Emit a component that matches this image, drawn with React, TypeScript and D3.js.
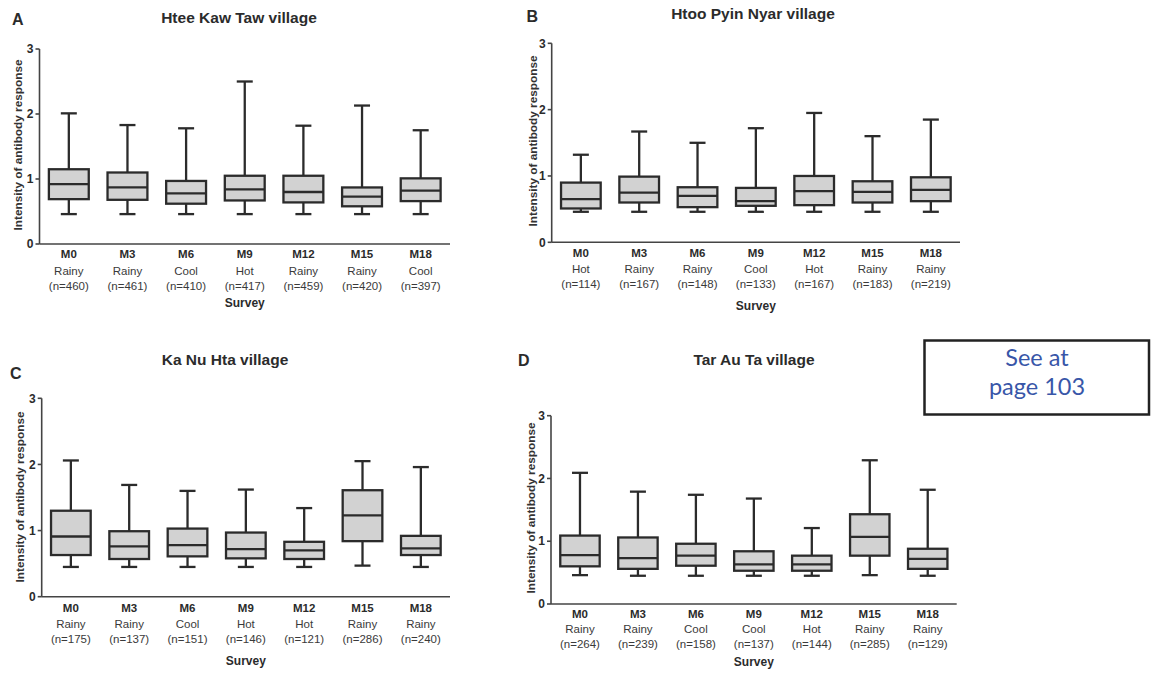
import React from "react";
import * as d3 from "d3";

const surveys = ["M0", "M3", "M6", "M9", "M12", "M15", "M18"];
const yTicks = [0, 1, 2, 3];

// Panel A – Htee Kaw Taw
const seasonsA = ["Rainy", "Rainy", "Cool", "Hot", "Rainy", "Rainy", "Cool"];
const nA = [460, 461, 410, 417, 459, 420, 397];
const lowA = [0.46, 0.46, 0.46, 0.46, 0.46, 0.46, 0.46];
const q1A = [0.69, 0.68, 0.62, 0.67, 0.64, 0.58, 0.66];
const medA = [0.92, 0.87, 0.78, 0.84, 0.8, 0.73, 0.82];
const q3A = [1.15, 1.1, 0.97, 1.05, 1.05, 0.87, 1.01];
const highA = [2.01, 1.83, 1.78, 2.5, 1.82, 2.13, 1.75];

// Panel B – Htoo Pyin Nyar
const seasonsB = ["Hot", "Rainy", "Rainy", "Cool", "Hot", "Rainy", "Rainy"];
const nB = [114, 167, 148, 133, 167, 183, 219];
const lowB = [0.46, 0.46, 0.46, 0.46, 0.46, 0.46, 0.46];
const q1B = [0.51, 0.6, 0.53, 0.55, 0.56, 0.6, 0.62];
const medB = [0.65, 0.75, 0.7, 0.62, 0.77, 0.76, 0.79];
const q3B = [0.9, 0.99, 0.83, 0.82, 1.0, 0.92, 0.98];
const highB = [1.32, 1.67, 1.5, 1.72, 1.95, 1.6, 1.85];

// Panel C – Ka Nu Hta
const seasonsC = ["Rainy", "Rainy", "Cool", "Hot", "Hot", "Rainy", "Rainy"];
const nC = [175, 137, 151, 146, 121, 286, 240];
const lowC = [0.45, 0.45, 0.45, 0.45, 0.45, 0.47, 0.45];
const q1C = [0.63, 0.57, 0.61, 0.58, 0.57, 0.84, 0.63];
const medC = [0.91, 0.76, 0.78, 0.72, 0.7, 1.23, 0.73];
const q3C = [1.3, 0.99, 1.03, 0.97, 0.83, 1.61, 0.92];
const highC = [2.06, 1.69, 1.6, 1.62, 1.34, 2.05, 1.96];

// Panel D – Tar Au Ta
const seasonsD = ["Rainy", "Rainy", "Cool", "Cool", "Hot", "Rainy", "Rainy"];
const nD = [264, 239, 158, 137, 144, 285, 129];
const lowD = [0.46, 0.45, 0.45, 0.45, 0.45, 0.46, 0.45];
const q1D = [0.6, 0.56, 0.61, 0.53, 0.53, 0.77, 0.56];
const medD = [0.78, 0.73, 0.77, 0.63, 0.63, 1.07, 0.72];
const q3D = [1.09, 1.06, 0.96, 0.84, 0.77, 1.43, 0.88];
const highD = [2.09, 1.79, 1.74, 1.68, 1.21, 2.29, 1.82];

const FONT = "'Liberation Sans', Arial, sans-serif";
const INK = "#2b2b2b";

type PanelProps = {
  letter: string;
  title: string;
  seasons: string[];
  n: number[];
  low: number[];
  q1: number[];
  med: number[];
  q3: number[];
  high: number[];
  layout: {
    x0: number; x1: number; y0: number; y3: number;
    letterX: number; letterY: number; titleX: number; titleY: number;
    ylabX: number; ylabY: number; labOff: number[];
  };
};

function Panel(p: PanelProps) {
  const L = p.layout;
  const x = d3.scaleBand<string>().domain(surveys).range([L.x0, L.x1]).paddingInner(0.32).paddingOuter(0.16);
  const y = d3.scaleLinear().domain([0, 3]).range([L.y0, L.y3]);
  const bw = x.bandwidth();
  const cap = 16;
  const sw = 2.3;
  return (
    <g>
      <text x={L.letterX} y={L.letterY} fontFamily={FONT} fontWeight="bold" fontSize={16} fill={INK}>{p.letter}</text>
      <text x={L.titleX} y={L.titleY} textAnchor="middle" fontFamily={FONT} fontWeight="bold" fontSize={15.5} fill={INK}>{p.title}</text>
      <text transform={`translate(${L.ylabX},${L.ylabY}) rotate(-90)`} textAnchor="middle" fontFamily={FONT} fontWeight="bold" fontSize={11.8} fill="#333">Intensity of antibody response</text>
      {/* y axis */}
      <line x1={L.x0} x2={L.x0} y1={y(3)} y2={y(0)} stroke="#444" strokeWidth={1.6} />
      {yTicks.map((t) => (
        <g key={t}>
          <line x1={L.x0 - 4} x2={L.x0} y1={y(t)} y2={y(t)} stroke="#444" strokeWidth={1.6} />
          <text x={L.x0 - 6} y={y(t) + 4.2} textAnchor="end" fontFamily={FONT} fontWeight="bold" fontSize={12} fill={INK}>{t}</text>
        </g>
      ))}
      {/* x axis */}
      <line x1={L.x0} x2={L.x1} y1={y(0)} y2={y(0)} stroke="#444" strokeWidth={1.6} />
      {surveys.map((s, i) => {
        const cx = (x(s) as number) + bw / 2;
        return (
          <g key={s}>
            <line x1={cx} x2={cx} y1={y(p.high[i])} y2={y(p.q3[i])} stroke={INK} strokeWidth={sw} />
            <line x1={cx} x2={cx} y1={y(p.q1[i])} y2={y(p.low[i])} stroke={INK} strokeWidth={sw} />
            <line x1={cx - cap / 2} x2={cx + cap / 2} y1={y(p.high[i])} y2={y(p.high[i])} stroke={INK} strokeWidth={sw} />
            <line x1={cx - cap / 2} x2={cx + cap / 2} y1={y(p.low[i])} y2={y(p.low[i])} stroke={INK} strokeWidth={sw} />
            <rect x={x(s)} y={y(p.q3[i])} width={bw} height={y(p.q1[i]) - y(p.q3[i])} fill="#d2d2d2" stroke={INK} strokeWidth={sw} />
            <line x1={x(s)} x2={(x(s) as number) + bw} y1={y(p.med[i])} y2={y(p.med[i])} stroke={INK} strokeWidth={sw} />
            <text x={cx} y={y(0) + L.labOff[0]} textAnchor="middle" fontFamily={FONT} fontWeight="bold" fontSize={11.5} fill={INK}>{s}</text>
            <text x={cx} y={y(0) + L.labOff[1]} textAnchor="middle" fontFamily={FONT} fontSize={11.5} fill="#3a3a3a">{p.seasons[i]}</text>
            <text x={cx} y={y(0) + L.labOff[2]} textAnchor="middle" fontFamily={FONT} fontSize={11.5} fill="#3a3a3a">{`(n=${p.n[i]})`}</text>
          </g>
        );
      })}
      <text x={(L.x0 + L.x1) / 2} y={y(0) + L.labOff[3]} textAnchor="middle" fontFamily={FONT} fontWeight="bold" fontSize={12} fill={INK}>Survey</text>
    </g>
  );
}

export default function App() {
  return (
    <svg width={1151} height={675} style={{ position: "absolute", left: 0, top: 0, background: "#fff" }}>
      <rect width={1151} height={675} fill="#fff" />
      <Panel letter="A" title="Htee Kaw Taw village" seasons={seasonsA} n={nA} low={lowA} q1={q1A} med={medA} q3={q3A} high={highA}
        layout={{ x0: 39.5, x1: 450, y0: 244, y3: 49, letterX: 12, letterY: 25, titleX: 239, titleY: 23, ylabX: 22, ylabY: 145, labOff: [14, 31, 46, 63] }} />
      <Panel letter="B" title="Htoo Pyin Nyar village" seasons={seasonsB} n={nB} low={lowB} q1={q1B} med={medB} q3={q3B} high={highB}
        layout={{ x0: 551.7, x1: 960, y0: 242.3, y3: 43.3, letterX: 526.5, letterY: 21.5, titleX: 753, titleY: 18.5, ylabX: 537, ylabY: 141, labOff: [15, 31, 46, 68] }} />
      <Panel letter="C" title="Ka Nu Hta village" seasons={seasonsC} n={nC} low={lowC} q1={q1C} med={medC} q3={q3C} high={highC}
        layout={{ x0: 41.7, x1: 450, y0: 596.7, y3: 398.3, letterX: 10, letterY: 379, titleX: 225, titleY: 365, ylabX: 24, ylabY: 497, labOff: [15, 31, 46.5, 68] }} />
      <Panel letter="D" title="Tar Au Ta village" seasons={seasonsD} n={nD} low={lowD} q1={q1D} med={medD} q3={q3D} high={highD}
        layout={{ x0: 551, x1: 956.7, y0: 604, y3: 415.7, letterX: 518, letterY: 366, titleX: 754, titleY: 365, ylabX: 535, ylabY: 508, labOff: [14, 29, 44, 62] }} />
      <rect x={924.5} y={340.5} width={224.5} height={74} fill="#fff" stroke="#222" strokeWidth={2.5} />
      <text x={1037} y={366} textAnchor="middle" fontFamily="Lato, 'Open Sans', sans-serif" fontSize={23.5} fill="#3856a8">See at</text>
      <text x={1037} y={395} textAnchor="middle" fontFamily="Lato, 'Open Sans', sans-serif" fontSize={23.5} fill="#3856a8">page 103</text>
    </svg>
  );
}
